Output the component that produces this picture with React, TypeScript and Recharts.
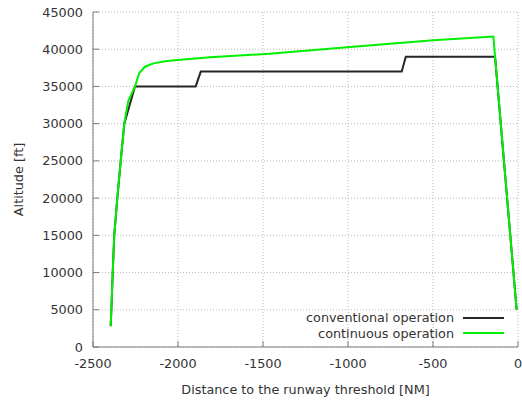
import React from "react";
import {
  CartesianGrid,
  Legend,
  Line,
  LineChart,
  XAxis,
  YAxis,
} from "recharts";

const FONT = "'DejaVu Sans', sans-serif";
const TEXT = "#333";
const FRAME = "#7c7c7c";

const seriesNames = ["conventional operation", "continuous operation"];
const distanceTicks = [-2500, -2000, -1500, -1000, -500, 0];
const altitudeTicks = [0, 5000, 10000, 15000, 20000, 25000, 30000, 35000, 40000, 45000];

const conventionalDistance = [-2396, -2392, -2384, -2375, -2357, -2337, -2316, -2253, -1896, -1866, -684, -660, -135, -8];
const conventionalAltitude = [2800, 5000, 10000, 15000, 20000, 25000, 30000, 35000, 35000, 37000, 37000, 39000, 39000, 5000];

const continuousDistance = [-2396, -2392, -2384, -2375, -2357, -2337, -2316, -2293, -2253, -2228, -2194, -2145, -2067, -2002, -1812, -1463, -988, -498, -145, -8];
const continuousAltitude = [2800, 5000, 10000, 15000, 20000, 25000, 30000, 33000, 35000, 36800, 37650, 38100, 38420, 38550, 38910, 39380, 40300, 41200, 41700, 5000];

const conventional = conventionalDistance.map((d, i) => ({ d, alt: conventionalAltitude[i] }));
const continuous = continuousDistance.map((d, i) => ({ d, alt: continuousAltitude[i] }));

const BottomTick = ({ x, y, payload }: any) => (
  <g>
    <line x1={x} y1={y} x2={x} y2={y - 6} stroke={FRAME} />
    <text x={x} y={y + 20.5} textAnchor="middle" fill={TEXT} fontSize={12.8} fontFamily={FONT}>
      {payload.value}
    </text>
  </g>
);

const TopTick = ({ x, y }: any) => <line x1={x} y1={y} x2={x} y2={y + 6} stroke={FRAME} />;

const LeftTick = ({ x, y, payload }: any) => (
  <g>
    <line x1={x} y1={y} x2={x + 6} y2={y} stroke={FRAME} />
    <text x={x - 10} y={y + 4.6} textAnchor="end" fill={TEXT} fontSize={12.8} fontFamily={FONT}>
      {payload.value}
    </text>
  </g>
);

const RightTick = ({ x, y }: any) => <line x1={x} y1={y} x2={x - 6} y2={y} stroke={FRAME} />;

// keep the legend in plotting order
const LegendBox = ({ payload }: any) => {
  const items = [...(payload || [])].sort(
    (a: any, b: any) => seriesNames.indexOf(a.value) - seriesNames.indexOf(b.value)
  );
  return (
    <div style={{ fontFamily: FONT, fontSize: 12.8, color: TEXT }}>
      {items.map((p: any) => (
        <div
          key={p.value}
          style={{ display: "flex", justifyContent: "flex-end", alignItems: "center", height: 15.6 }}
        >
          <span style={{ whiteSpace: "nowrap" }}>{p.value}</span>
          <span
            style={{ display: "inline-block", width: 41, height: 2, marginLeft: 9, background: p.color }}
          />
        </div>
      ))}
    </div>
  );
};

export default function App() {
  return (
    <div style={{ position: "absolute", left: 0, top: 0, background: "#fff" }}>
      <LineChart width={522} height={401} margin={{ top: 12, right: 4, bottom: 0, left: 0 }}>
        <CartesianGrid stroke="#b8b8b8" strokeDasharray="1 2" />
        <XAxis
          dataKey="d"
          type="number"
          domain={[-2500, 0]}
          ticks={distanceTicks}
          interval={0}
          height={54}
          tickSize={0}
          tickMargin={0}
          tickLine={false}
          axisLine={{ stroke: FRAME }}
          tick={BottomTick}
          allowDuplicatedCategory={false}
          label={{
            content: ({ viewBox }: any) => (
              <text
                x={viewBox.x + viewBox.width / 2}
                y={393.5}
                textAnchor="middle"
                fill={TEXT}
                fontSize={12.8}
                fontFamily={FONT}
              >
                Distance to the runway threshold [NM]
              </text>
            ),
          }}
        />
        <XAxis
          xAxisId="top"
          dataKey="d"
          type="number"
          orientation="top"
          domain={[-2500, 0]}
          ticks={distanceTicks}
          interval={0}
          height={0}
          tickSize={0}
          tickMargin={0}
          tickLine={false}
          axisLine={{ stroke: FRAME }}
          tick={TopTick}
        />
        <YAxis
          type="number"
          domain={[0, 45000]}
          ticks={altitudeTicks}
          interval={0}
          width={93}
          tickSize={0}
          tickMargin={0}
          tickLine={false}
          axisLine={{ stroke: FRAME }}
          tick={LeftTick}
          label={{
            content: ({ viewBox }: any) => {
              const cx = 18.5;
              const cy = viewBox.y + viewBox.height / 2;
              return (
                <text
                  x={cx}
                  y={cy}
                  transform={`rotate(-90 ${cx} ${cy})`}
                  textAnchor="middle"
                  dominantBaseline="central"
                  fill={TEXT}
                  fontSize={12.8}
                  fontFamily={FONT}
                >
                  Altitude [ft]
                </text>
              );
            },
          }}
        />
        <YAxis
          yAxisId="right"
          type="number"
          orientation="right"
          domain={[0, 45000]}
          ticks={altitudeTicks}
          interval={0}
          width={0}
          tickSize={0}
          tickMargin={0}
          tickLine={false}
          axisLine={{ stroke: FRAME }}
          tick={RightTick}
        />
        <Legend
          layout="vertical"
          align="center"
          verticalAlign="middle"
          content={LegendBox}
          wrapperStyle={{ position: "absolute", left: 240, top: 310, width: 264 }}
        />
        <Line
          data={conventional}
          dataKey="alt"
          name={seriesNames[0]}
          type="linear"
          stroke="#262626"
          strokeWidth={2}
          dot={false}
          isAnimationActive={false}
        />
        <Line
          data={continuous}
          dataKey="alt"
          name={seriesNames[1]}
          type="linear"
          stroke="#00f000"
          strokeWidth={2}
          dot={false}
          isAnimationActive={false}
        />
      </LineChart>
    </div>
  );
}
